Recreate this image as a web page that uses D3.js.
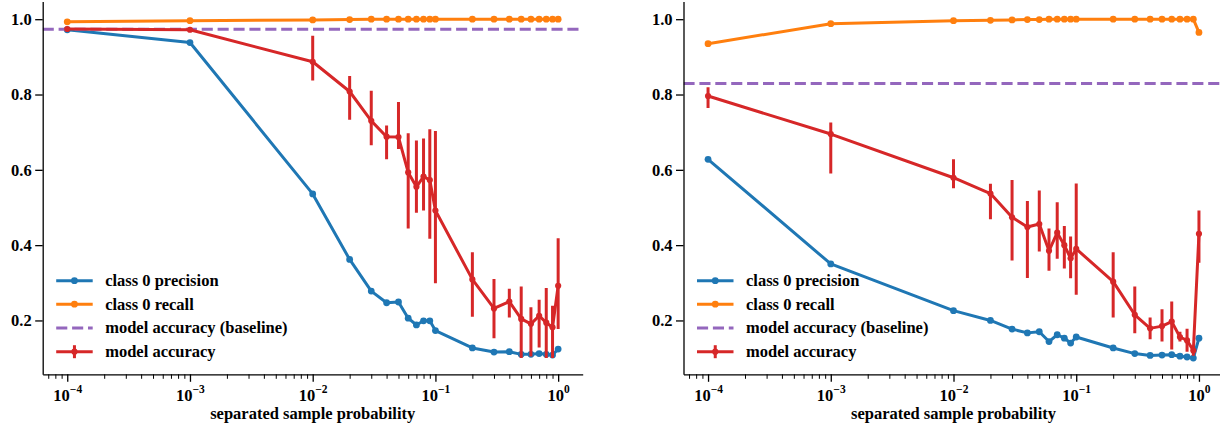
<!DOCTYPE html>
<html>
<head>
<meta charset="utf-8">
<script src="https://cdn.jsdelivr.net/npm/d3@7"></script>
<style>
  html, body { margin: 0; padding: 0; background: #ffffff; }
  svg { display: block; }
</style>
</head>
<body>
<div id="chart"></div>
<script>
// ---- data ----
const probabilities = [1e-4, 1e-3, 1e-2, 0.02, 0.03, 0.04, 0.05, 0.06, 0.07, 0.08, 0.09, 0.1, 0.2, 0.3, 0.4, 0.5, 0.6, 0.7, 0.8, 0.9, 1.0];
const seriesNames = ["class 0 precision", "class 0 recall", "model accuracy (baseline)", "model accuracy"];
const xTickValues = [1e-4, 1e-3, 1e-2, 1e-1, 1e0];
const xTickExponents = ["−4", "−3", "−2", "−1", "0"];
const yTickValues = [0.2, 0.4, 0.6, 0.8, 1.0];
const xAxisLabel = "separated sample probability";

// left panel
const leftPrecision = [0.972, 0.938, 0.536, 0.362, 0.278, 0.247, 0.249, 0.206, 0.188, 0.199, 0.199, 0.173, 0.127, 0.116, 0.117, 0.110, 0.110, 0.112, 0.110, 0.108, 0.124];
const leftRecall = [0.993, 0.996, 0.998, 0.999, 1.0, 1.0, 1.0, 1.0, 1.0, 1.0, 1.0, 1.0, 1.0, 1.0, 1.0, 1.0, 1.0, 1.0, 1.0, 1.0, 1.0];
const leftBaseline = 0.973;
const leftAccuracy = [0.974, 0.972, 0.887, 0.808, 0.730, 0.688, 0.687, 0.593, 0.555, 0.582, 0.573, 0.492, 0.309, 0.232, 0.250, 0.204, 0.191, 0.212, 0.194, 0.182, 0.292];
const leftAccLow = [0.970, 0.968, 0.837, 0.733, 0.665, 0.628, 0.655, 0.444, 0.486, 0.492, 0.417, 0.299, 0.210, 0.153, 0.208, 0.100, 0.104, 0.128, 0.100, 0.100, 0.177];
const leftAccHigh = [0.978, 0.976, 0.956, 0.849, 0.810, 0.718, 0.780, 0.697, 0.678, 0.683, 0.708, 0.703, 0.381, 0.310, 0.284, 0.290, 0.235, 0.255, 0.286, 0.239, 0.418];

// right panel
const rightPrecision = [0.628, 0.350, 0.226, 0.200, 0.177, 0.167, 0.170, 0.144, 0.162, 0.153, 0.140, 0.156, 0.127, 0.112, 0.107, 0.108, 0.109, 0.105, 0.103, 0.100, 0.153];
const rightRecall = [0.935, 0.988, 0.996, 0.997, 0.998, 0.999, 0.999, 1.0, 1.0, 1.0, 1.0, 1.0, 1.0, 1.0, 1.0, 1.0, 1.0, 1.0, 1.0, 1.0, 0.965];
const rightBaseline = 0.829;
const rightAccuracy = [0.796, 0.695, 0.579, 0.537, 0.474, 0.448, 0.456, 0.385, 0.433, 0.400, 0.365, 0.390, 0.303, 0.215, 0.179, 0.185, 0.197, 0.156, 0.147, 0.120, 0.430];
const rightAccLow = [0.764, 0.590, 0.551, 0.469, 0.359, 0.313, 0.383, 0.332, 0.364, 0.338, 0.312, 0.268, 0.208, 0.166, 0.150, 0.144, 0.123, 0.144, 0.117, 0.106, 0.353];
const rightAccHigh = [0.819, 0.726, 0.628, 0.563, 0.573, 0.517, 0.545, 0.444, 0.514, 0.451, 0.423, 0.564, 0.381, 0.290, 0.208, 0.230, 0.250, 0.170, 0.178, 0.133, 0.492];

// ---- layout / style ----
const W = 1220, H = 423;
const FONT = "'Liberation Serif', 'DejaVu Serif', 'Times New Roman', serif";
const colors = { precision: "#1f77b4", recall: "#ff7f0e", baseline: "#9467bd", accuracy: "#d62728" };
const yTop = 1.5, yBottom = 374.3;
const panels = [
  { x0: 42.7, x1: 582.7, precision: leftPrecision, recall: leftRecall, baseline: leftBaseline, acc: leftAccuracy, lo: leftAccLow, hi: leftAccHigh },
  { x0: 683.5, x1: 1223.5, precision: rightPrecision, recall: rightRecall, baseline: rightBaseline, acc: rightAccuracy, lo: rightAccLow, hi: rightAccHigh }
];

const svg = d3.select("#chart").append("svg").attr("width", W).attr("height", H)
  .style("font-family", FONT).style("font-weight", "bold");

const y = d3.scaleLinear().domain([0.057, 1.047]).range([yBottom, yTop]);
const FS = 16.5;

function styleText(sel) {
  return sel.style("font-family", FONT).style("font-weight", "bold").attr("fill", "#000");
}

panels.forEach((p, pi) => {
  const x = d3.scaleLog().domain([Math.pow(10, -4.2), Math.pow(10, 0.2)]).range([p.x0, p.x1]);
  const g = svg.append("g");

  const clipId = "clip" + pi;
  svg.append("clipPath").attr("id", clipId).append("rect")
    .attr("x", p.x0).attr("y", yTop).attr("width", p.x1 - p.x0).attr("height", yBottom - yTop);
  const plot = g.append("g").attr("clip-path", `url(#${clipId})`);

  const line = d3.line().x((d, i) => x(probabilities[i])).y(d => y(d));

  // precision
  plot.append("path").datum(p.precision).attr("d", line)
    .attr("fill", "none").attr("stroke", colors.precision).attr("stroke-width", 3).attr("stroke-linejoin", "round");
  plot.selectAll(null).data(p.precision).enter().append("circle")
    .attr("cx", (d, i) => x(probabilities[i])).attr("cy", d => y(d)).attr("r", 3.4).attr("fill", colors.precision);

  // recall
  plot.append("path").datum(p.recall).attr("d", line)
    .attr("fill", "none").attr("stroke", colors.recall).attr("stroke-width", 3).attr("stroke-linejoin", "round");
  plot.selectAll(null).data(p.recall).enter().append("circle")
    .attr("cx", (d, i) => x(probabilities[i])).attr("cy", d => y(d)).attr("r", 3.4).attr("fill", colors.recall);

  // baseline
  plot.append("line").attr("x1", p.x0).attr("x2", p.x1).attr("y1", y(p.baseline)).attr("y2", y(p.baseline))
    .attr("stroke", colors.baseline).attr("stroke-width", 3).attr("stroke-dasharray", "11.1,4.8");

  // accuracy with error bars
  plot.append("path").datum(p.acc).attr("d", line)
    .attr("fill", "none").attr("stroke", colors.accuracy).attr("stroke-width", 3).attr("stroke-linejoin", "round");
  plot.selectAll(null).data(p.acc).enter().append("line")
    .attr("x1", (d, i) => x(probabilities[i])).attr("x2", (d, i) => x(probabilities[i]))
    .attr("y1", (d, i) => y(p.lo[i])).attr("y2", (d, i) => y(p.hi[i]))
    .attr("stroke", colors.accuracy).attr("stroke-width", 3);
  plot.selectAll(null).data(p.acc).enter().append("circle")
    .attr("cx", (d, i) => x(probabilities[i])).attr("cy", d => y(d)).attr("r", 3.1).attr("fill", colors.accuracy);

  // x axis: minor ticks
  const minorTicks = [];
  for (let e = -5; e <= 0; e++) {
    for (let m = 2; m <= 9; m++) {
      const v = m * Math.pow(10, e);
      if (v >= x.domain()[0] && v <= x.domain()[1]) minorTicks.push(v);
    }
  }
  const xMinor = g.append("g").attr("transform", `translate(0,${yBottom})`)
    .call(d3.axisBottom(x).tickValues(minorTicks).tickSize(4.5).tickSizeOuter(0).tickFormat(""));
  xMinor.select(".domain").remove();
  xMinor.selectAll(".tick line").attr("stroke", "#000").attr("stroke-width", 1);

  // x axis: major ticks
  const xMajor = g.append("g").attr("transform", `translate(0,${yBottom})`)
    .call(d3.axisBottom(x).tickValues(xTickValues).tickSize(7.5).tickSizeOuter(0).tickFormat(""));
  xMajor.attr("font-family", null).attr("font-size", null);
  xMajor.select(".domain").attr("stroke", "#000").attr("stroke-width", 1.3);
  xMajor.selectAll(".tick line").attr("stroke", "#000").attr("stroke-width", 1.3);
  xMajor.selectAll(".tick text").each(function(d, i) {
    const t = styleText(d3.select(this)).attr("y", 26.7).attr("dy", null)
      .attr("font-size", FS).attr("text-anchor", "middle");
    t.append("tspan").text("10");
    t.append("tspan").attr("dy", -7.5).attr("font-size", 11.5).text(xTickExponents[i]);
  });

  // y axis
  const yAx = g.append("g").attr("transform", `translate(${p.x0},0)`)
    .call(d3.axisLeft(y).tickValues(yTickValues).tickSize(7.5).tickSizeOuter(0).tickPadding(3.5).tickFormat(d3.format(".1f")));
  yAx.attr("font-family", null).attr("font-size", null);
  yAx.select(".domain").attr("stroke", "#000").attr("stroke-width", 1.3);
  yAx.selectAll(".tick line").attr("stroke", "#000").attr("stroke-width", 1.3);
  styleText(yAx.selectAll(".tick text")).attr("font-size", FS).attr("dy", "0.33em");

  // x label
  styleText(g.append("text")).attr("x", (p.x0 + p.x1) / 2).attr("y", 418.5).attr("text-anchor", "middle")
    .attr("font-size", FS).text(xAxisLabel);

  // legend
  const lx0 = p.x0 + 13.5, lx1 = lx0 + 36.5, lxm = (lx0 + lx1) / 2, ltx = p.x0 + 62.5;
  const rows = [280.7, 304.2, 328.0, 351.7];
  const lg = g.append("g");
  seriesNames.forEach((name, i) => {
    const yy = rows[i];
    const col = [colors.precision, colors.recall, colors.baseline, colors.accuracy][i];
    const ln = lg.append("line").attr("x1", lx0).attr("x2", lx1).attr("y1", yy).attr("y2", yy)
      .attr("stroke", col).attr("stroke-width", 3);
    if (i === 2) ln.attr("stroke-dasharray", "11.1,4.8");
    if (i === 0 || i === 1 || i === 3) {
      lg.append("circle").attr("cx", lxm).attr("cy", yy).attr("r", i === 3 ? 3.1 : 3.4).attr("fill", col);
    }
    if (i === 3) {
      lg.append("line").attr("x1", lxm).attr("x2", lxm).attr("y1", yy - 6.5).attr("y2", yy + 6.5)
        .attr("stroke", col).attr("stroke-width", 3);
    }
    styleText(lg.append("text")).attr("x", ltx).attr("y", yy).attr("dy", "0.33em").attr("font-size", FS).text(name);
  });
});
</script>
</body>
</html>
